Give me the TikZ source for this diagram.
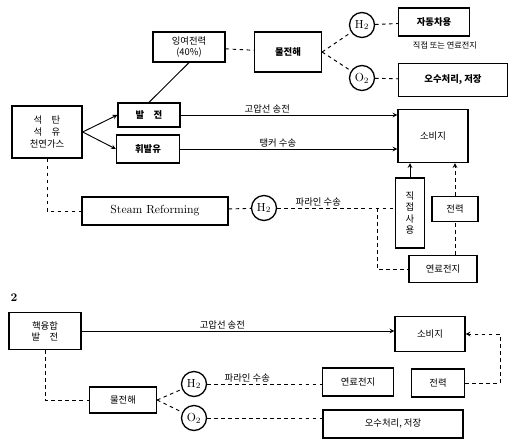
\documentclass[tikz,border=0pt]{standalone}
\usepackage{fontspec}
\newfontfamily\kr{Noto Sans CJK KR}
\usetikzlibrary{arrows}

\tikzset{
  box/.style 2 args={draw, line width=1.1pt, minimum width=#1*0.3mm, minimum height=#2*0.3mm,
    inner sep=1pt, align=center, font=\kr\footnotesize},
  circ/.style={draw, line width=1.1pt, circle, minimum size=25*0.3mm, inner sep=0pt},
  lbl/.style={font=\kr\footnotesize, inner sep=1.5pt},
}

\begin{document}
\begin{tikzpicture}[x=0.3mm, y=-0.3mm, >=stealth]
  \useasboundingbox (0,0) rectangle (513,440);

  % --- 1 ---
  \node[box={70}{52}] (src) at (47,132) {석\quad 탄\\[1pt]석\quad 유\\[1pt]천연가스};
  \node[box={62}{24}] (gen) at (149,115) {\textbf{발\quad 전}};
  \node[box={63}{28}] (gas) at (148,149) {\textbf{휘발유}};
  \node[box={72}{30}] (surp) at (189,47) {잉여전력\\(40\%)};
  \node[box={67}{40}] (elec) at (288,52) {\textbf{물전해}};
  \node[circ] (h2a) at (362,25) {H$_2$};
  \node[circ] (o2a) at (362,78) {O$_2$};
  \node[box={71}{28}] (car) at (434,22) {\textbf{자동차용}};
  \node[lbl, font=\kr\scriptsize] (note) at (445,45) {직접 또는 연료전지};
  \node[box={109}{33}] (sew) at (453,80) {\textbf{오수처리, 저장}};
  \node[box={70}{53}] (cons) at (433,136) {소비지};
  \node[box={146}{28}, font=\normalsize] (sr) at (155,211) {Steam Reforming};
  \node[circ] (h2b) at (264,208) {H$_2$};
  \node[box={29}{70}] (direct) at (410,213) {직\\접\\사\\용};
  \node[box={46}{25}] (power) at (455,209) {전력};
  \node[box={68}{27}] (fc) at (443,269) {연료전지};
  \coordinate (split) at (377,208);

  \draw[->, thick] (src.east) -- (gen.west);
  \draw[->, thick] (src.east) -- (gas.west);
  \draw[thick] (gen.north) -- (surp.south);
  \draw[dashed, thick] (surp) -- (elec);
  \draw[dashed, thick] (elec.east) -- (h2a);
  \draw[dashed, thick] (elec.east) -- (o2a);
  \draw[dashed, thick] (h2a) -- (car);
  \draw[dashed, thick] (o2a) -- (sew);
  \draw[->, thick] (gen) -- (cons.west |- gen)
    node[lbl, pos=0.4, above] {고압선 송전};
  \draw[->, thick] (gas) -- (cons.west |- gas)
    node[lbl, pos=0.45, above] {탱커 수송};
  \draw[dashed, thick] (src.south) |- (sr.west);
  \draw[dashed, thick] (sr) -- (h2b);
  \draw[dashed, thick] (h2b) -- (direct.west |- h2b)
    node[lbl, pos=0.35, above] {파라인 수송};
  \draw[dashed, thick] (split) |- (fc.west);
  \draw[->, thick] (direct) -- (cons.south -| direct);
  \draw[->, dashed, thick] (power) -- (cons.south -| power);
  \draw[dashed, thick] (fc.north -| power) -- (power.south);

  % --- 2 ---
  \node[font=\bfseries] (two) at (14,298) {2};
  \node[box={72}{37}] (fus) at (45,331) {핵융합\\발\quad 전};
  \node[box={70}{35}] (cons2) at (430,334) {소비지};
  \node[box={67}{26}] (elec2) at (123,400) {물전해};
  \node[circ] (h2c) at (194,384) {H$_2$};
  \node[circ] (o2c) at (194,418) {O$_2$};
  \node[box={71}{28}] (fc2) at (358,382) {연료전지};
  \node[box={53}{28}] (pow2) at (438,383) {전력};
  \node[box={140}{28}] (sew2) at (393,424) {오수처리, 저장};
  \coordinate (turn) at (500,383);

  \draw[->, thick] (fus) -- (cons2.west |- fus)
    node[lbl, pos=0.45, above] {고압선 송전};
  \draw[dashed, thick] (fus.south) |- (elec2.west);
  \draw[dashed, thick] (elec2.east) -- (h2c);
  \draw[dashed, thick] (elec2.east) -- (o2c);
  \draw[dashed, thick] (h2c) -- (fc2.west |- h2c)
    node[lbl, pos=0.35, above] {파라인 수송};
  \draw[dashed, thick] (o2c) -- (sew2.west |- o2c);
  \draw[->, dashed, thick] (pow2.east) -- (turn) |- (cons2.east);
\end{tikzpicture}
\end{document}
